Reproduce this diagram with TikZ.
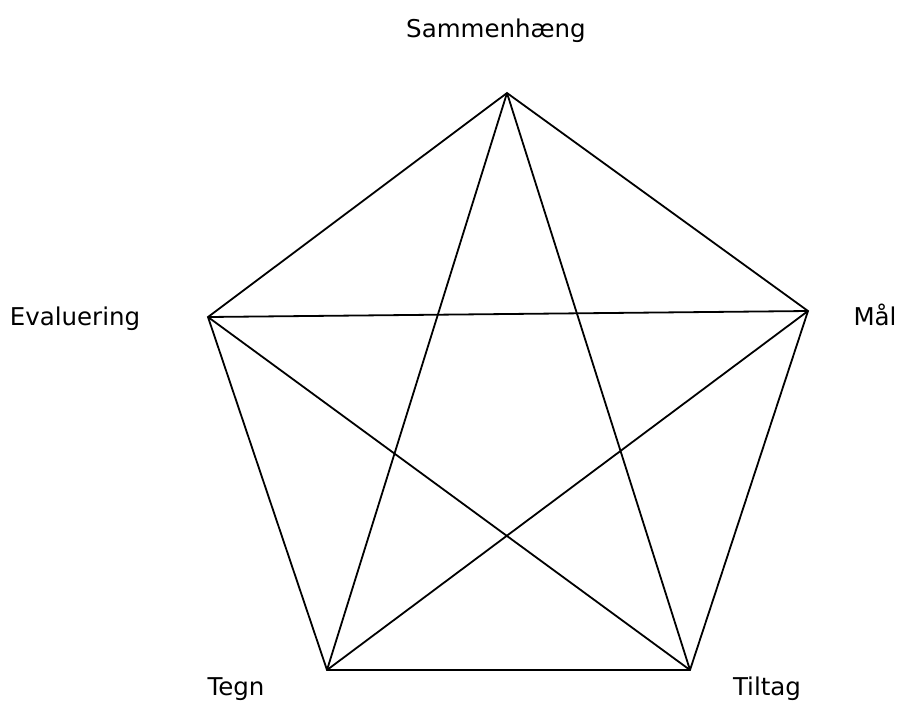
\documentclass[tikz,border=0pt]{standalone}
\usepackage{fontspec}
\setmainfont{DejaVu Sans}
\begin{document}
\begin{tikzpicture}[x=1pt,y=-1pt,
  lbl/.style={anchor=base,font=\fontsize{24.5}{28}\selectfont,inner sep=0pt},
  edge/.style={draw=black,line width=1.8pt,line join=miter}]
\useasboundingbox (0,0) rectangle (898,702);
\coordinate (S) at (507,93);
\coordinate (M) at (808,311);
\coordinate (E) at (208,317);
\coordinate (T) at (327,670);
\coordinate (Ti) at (690,670);
\node[lbl] (lS) at (496,37) {Sammenhæng};
\node[lbl] (lE) at (75,325) {Evaluering};
\node[lbl] (lM) at (875,325) {Mål};
\node[lbl] (lT) at (236,695) {Tegn};
\node[lbl] (lTi) at (767,695) {Tiltag};
\draw[edge] (S) -- (M) -- (Ti) -- (T) -- (E) -- cycle;
\draw[edge] (S) -- (T);
\draw[edge] (S) -- (Ti);
\draw[edge] (E) -- (M);
\draw[edge] (E) -- (Ti);
\draw[edge] (M) -- (T);
\end{tikzpicture}
\end{document}
